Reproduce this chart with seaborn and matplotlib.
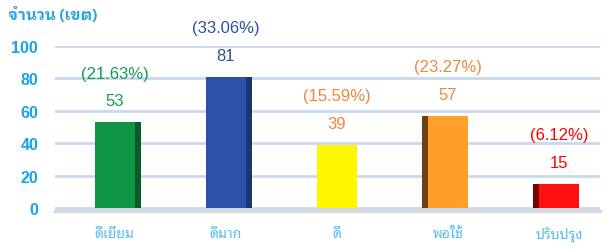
import matplotlib
matplotlib.use("Agg")
import matplotlib.pyplot as plt
from matplotlib.patches import Rectangle
import seaborn as sns
import pandas as pd

# data
categories = ["ดีเยี่ยม", "ดีมาก", "ดี", "พอใช้", "ปรับปรุง"]
counts = [53, 81, 39, 57, 15]
percents = ["(21.63%)", "(33.06%)", "(15.59%)", "(23.27%)", "(6.12%)"]

bar_colors = ["#109545", "#2d51a8", "#fff700", "#ffa02a", "#ff1010"]
side_colors = ["#0a5a2a", "#1c3470", None, "#6e4210", "#7a0000"]
side_pos = ["right", "right", None, "left", "left"]
label_colors = ["#1a9a50", "#2f4f9f", "#f0873a", "#f0873a", "#ff0000"]

sns.set_theme(style="white")
plt.rcParams["font.family"] = ["Liberation Sans", "Noto Sans Thai Looped"]

df = pd.DataFrame({"cat": categories, "n": counts})

fig = plt.figure(figsize=(6.16, 2.53), dpi=100)
ax = fig.add_axes([0.089, 0.162, 0.885, 0.652])

sns.barplot(data=df, x="cat", y="n", hue="cat", palette=bar_colors,
            width=0.36, legend=False, ax=ax, saturation=1, zorder=3,
            linewidth=0, edgecolor="none")

bars = list(ax.patches)

# fake 3d side faces
for i, p in enumerate(bars):
    if side_pos[i] is None:
        continue
    w = 0.055
    x0 = p.get_x() + p.get_width() if side_pos[i] == "right" else p.get_x() - w
    ax.add_patch(Rectangle((x0, 0), w, p.get_height(), facecolor=side_colors[i],
                           edgecolor="none", lw=0, zorder=3))

for i, p in enumerate(bars):
    cx = p.get_x() + p.get_width() / 2
    h = p.get_height()
    ax.annotate(str(counts[i]), (cx, h), xytext=(0, 10), textcoords="offset points",
                ha="center", va="bottom", fontsize=12, color=label_colors[i])
    ax.annotate(percents[i], (cx, h), xytext=(0, 30), textcoords="offset points",
                ha="center", va="bottom", fontsize=12, color=label_colors[i])

ax.set_ylim(-1.8, 100)
ax.set_xlim(-0.54, 4.37)
ax.set_yticks([0, 20, 40, 60, 80, 100])
ax.yaxis.grid(True, color="#c6d9f0", lw=2, zorder=0)
ax.set_axisbelow(True)
for s in ["top", "right", "left"]:
    ax.spines[s].set_visible(False)
ax.spines["bottom"].set_color("#d9d9d9")
ax.spines["bottom"].set_linewidth(2.5)

ax.set_xlabel("")
ax.set_ylabel("")
ax.tick_params(axis="y", length=0, pad=12, labelsize=11.5, labelcolor="#18a3e8")
for t in ax.get_yticklabels():
    t.set_fontweight("bold")
ax.tick_params(axis="x", length=0, pad=11, labelsize=10, labelcolor="#55bdf0")
for t in ax.get_xticklabels():
    t.set_fontfamily(["Noto Sans Thai Looped"])

fig.text(0.013, 0.94, "จำนวน (เขต)", fontsize=11, fontweight="bold", color="#2aa3e0",
         family=["IBM Plex Sans Thai Looped", "Noto Sans Thai Looped"], va="center")

fig.savefig("out.png", dpi=100)
